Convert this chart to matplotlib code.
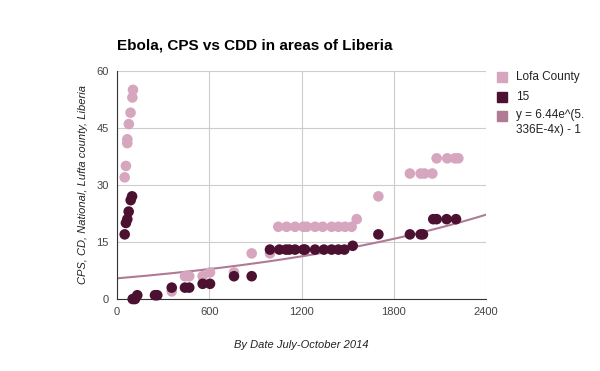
import matplotlib.pyplot as plt
import numpy as np

plt.rcParams['font.family'] = ['Liberation Sans', 'DejaVu Sans']

# Lofa County series (x = date index, y = cases)
lofa_x = [50, 58, 67, 67, 77, 88, 100, 104, 356, 442, 470, 557, 605, 761, 876, 995,
          1049, 1103, 1158, 1212, 1234, 1288, 1338, 1396, 1440, 1483, 1526, 1559, 1700,
          1905, 1975, 2000, 2051, 2079, 2148, 2198, 2220]
lofa_y = [32, 35, 41, 42, 46, 49, 53, 55, 2, 6, 6, 6, 7, 7, 12, 12,
          19, 19, 19, 19, 19, 19, 19, 19, 19, 19, 19, 21, 27,
          33, 33, 33, 33, 37, 37, 37, 37]

# "15" series
s15_x = [50, 58, 67, 76, 89, 98, 102, 117, 132, 247, 262, 356, 442, 470, 557, 605, 761, 876,
         995, 1056, 1099, 1120, 1158, 1212, 1223, 1288, 1346, 1396, 1440, 1479, 1533, 1700,
         1905, 1975, 1990, 2057, 2079, 2144, 2205]
s15_y = [17, 20, 21, 23, 26, 27, 0, 0, 1, 1, 1, 3, 3, 3, 4, 4, 6, 6,
         13, 13, 13, 13, 13, 13, 13, 13, 13, 13, 13, 13, 14, 17,
         17, 17, 17, 21, 21, 21, 21]

# exponential trendline y = 6.44e^(5.336E-4x) - 1
trend_a = 6.44
trend_b = 5.336e-4
trend_c = -1

xticks = [0, 600, 1200, 1800, 2400]
yticks = [0, 15, 30, 45, 60]

pink = '#d5a6bd'
dark = '#4c1130'
trend_color = '#b07a95'

fig = plt.figure(figsize=(6, 3.71), dpi=100)
ax = fig.add_axes([0.195, 0.194, 0.615, 0.615])

tx = np.linspace(0, 2400, 200)
ax.plot(tx, trend_a * np.exp(trend_b * tx) + trend_c, color=trend_color, linewidth=1.5, zorder=2)
ax.scatter(lofa_x, lofa_y, s=58, color=pink, edgecolors='none', zorder=3, clip_on=False)
ax.scatter(s15_x, s15_y, s=58, color=dark, edgecolors='none', zorder=4, clip_on=False)

ax.set_xlim(0, 2400)
ax.set_ylim(0, 60)
ax.set_xticks(xticks)
ax.set_yticks(yticks)
ax.grid(True, color='#cccccc', linewidth=0.8)
ax.set_axisbelow(True)
for side in ['top', 'right']:
    ax.spines[side].set_visible(False)
for side in ['left', 'bottom']:
    ax.spines[side].set_color('#333333')
ax.tick_params(length=0, labelsize=8, colors='#444444', pad=6)

fig.text(0.195, 0.878, 'Ebola, CPS vs CDD in areas of Liberia', fontsize=11, fontweight='bold',
         ha='left', va='center', color='#000000')
ax.set_xlabel('By Date July-October 2014', fontsize=8, style='italic', color='#222222', labelpad=16)
ax.set_ylabel('CPS, CD, National, Lufta county, Liberia', fontsize=8, style='italic',
              color='#222222', labelpad=6)

# legend
leg_items = [(pink, 'Lofa County', 77), (dark, '15', 97), (trend_color, 'y = 6.44e^(5.\n336E-4x) - 1', 116)]
for col, lab, ypx in leg_items:
    fig.patches.append(plt.Rectangle((497 / 600, 1 - (ypx + 5) / 371), 10 / 600, 10 / 371,
                                     transform=fig.transFigure, color=col))
    if '\n' in lab:
        fig.text(516 / 600, 1 - (ypx - 7) / 371, lab, fontsize=8.5, color='#222222',
                 ha='left', va='top', linespacing=1.3)
    else:
        fig.text(516 / 600, 1 - ypx / 371, lab, fontsize=8.5, color='#222222',
                 ha='left', va='center')

fig.savefig('out.png', dpi=100)
plt.close(fig)
